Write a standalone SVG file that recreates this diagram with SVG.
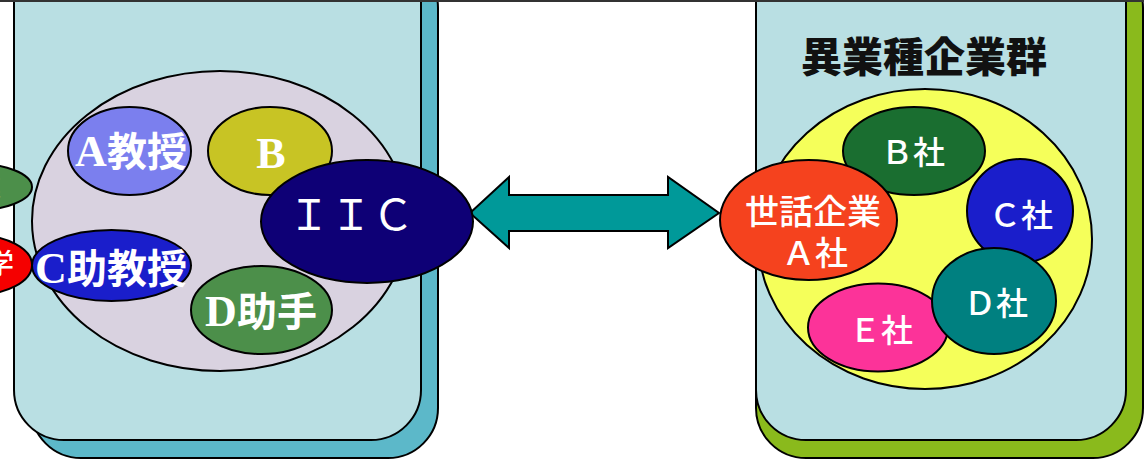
<svg xmlns="http://www.w3.org/2000/svg" width="1144" height="459" viewBox="0 0 1144 459">
  <style>
    .ol { stroke: #000; stroke-width: 2; }
    .lbl-j { fill: #fff; font-family: "Liberation Serif", "Noto Sans CJK JP", serif; font-weight: bold; text-anchor: middle; }
    .lbl-j .lat { font-size: 44px; }
    .lbl-s { fill: #fff; font-family: "Noto Sans CJK JP", "Noto Sans", sans-serif; font-weight: 500; text-anchor: middle; }
    .end { text-anchor: end; }
    .panel { fill: #b9dfe3; }
  </style>

  <rect x="0" y="0" width="1144" height="459" fill="#fff"/>

  <!-- university panel -->
  <g id="panel-univ">
    <rect x="31" y="-42" width="407" height="500" rx="50" fill="#5cb8c9" class="ol"/>
    <rect x="14" y="-60" width="407" height="500" rx="50" class="panel ol"/>
  </g>

  <!-- company panel -->
  <g id="panel-corp">
    <rect x="756" y="-42" width="387" height="500" rx="50" fill="#8aba1c" class="ol"/>
    <rect x="756" y="-60" width="370" height="500" rx="50" class="panel ol"/>
    <text x="924" y="72" font-family="'Noto Sans CJK JP', sans-serif" font-weight="900" font-size="41" text-anchor="middle" fill="#111">異業種企業群</text>
  </g>

  <!-- top rule -->
  <line x1="0" y1="1" x2="1144" y2="1" stroke="#333" stroke-width="2"/>

  <!-- partial nodes at the left edge -->
  <g id="node-left-green">
    <ellipse cx="-30" cy="187" rx="62" ry="24" fill="#4c8f4a" class="ol"/>
    <text x="1" y="197" class="lbl-s end" font-size="28">企業</text>
  </g>
  <g id="node-left-red">
    <ellipse cx="-25" cy="265" rx="57" ry="30" fill="#f50000" class="ol"/>
    <text x="14" y="274" class="lbl-s end" font-size="28">大学</text>
  </g>

  <!-- university circle -->
  <g id="group-univ">
    <ellipse cx="220" cy="221" rx="188" ry="150" fill="#d9d2e0" class="ol"/>
  </g>

  <!-- connectors -->
  <g id="connectors">
    <polygon points="470,213 509,177 509,195 668,195 668,177 719,213 668,248 668,231 509,231 509,248" fill="#009999" class="ol"/>
  </g>

  <g id="node-a">
    <ellipse cx="129.5" cy="151" rx="61.5" ry="44" fill="#7b7fee" class="ol"/>
    <text x="131" y="166" class="lbl-j" font-size="40"><tspan class="lat">A</tspan>教授</text>
  </g>
  <g id="node-b">
    <ellipse cx="270" cy="151" rx="62" ry="44" fill="#c8c424" class="ol"/>
    <text x="271" y="168" class="lbl-j" font-size="44">B</text>
  </g>
  <g id="node-c">
    <ellipse cx="111.5" cy="265.5" rx="79.5" ry="35.5" fill="#1a1ecb" class="ol"/>
    <text x="111" y="283" class="lbl-j" font-size="40"><tspan class="lat">C</tspan>助教授</text>
  </g>
  <g id="node-d">
    <ellipse cx="261.5" cy="310" rx="70.5" ry="44" fill="#4c8f4a" class="ol"/>
    <text x="261" y="326" class="lbl-j" font-size="40"><tspan class="lat">D</tspan>助手</text>
  </g>
  <g id="node-iic">
    <ellipse cx="367" cy="221.5" rx="106" ry="61.5" fill="#0e0076" class="ol"/>
    <text x="351" y="230" class="lbl-s" font-size="42" style="font-weight:normal">ＩＩＣ</text>
  </g>

  <!-- company group -->
  <g id="group-corp">
    <ellipse cx="925" cy="239" rx="167" ry="150" fill="#f5ff5a" class="ol"/>
  </g>
  <g id="node-corp-b">
    <ellipse cx="914" cy="151" rx="71" ry="44" fill="#1a6e30" class="ol"/>
    <text x="913" y="164" class="lbl-s" font-size="32">Ｂ社</text>
  </g>
  <g id="node-corp-c">
    <ellipse cx="1020" cy="211" rx="53" ry="52" fill="#1a1ecb" class="ol"/>
    <text x="1021" y="227" class="lbl-s" font-size="32">Ｃ社</text>
  </g>
  <g id="node-corp-e">
    <ellipse cx="878" cy="327.5" rx="70" ry="44" fill="#fc3399" class="ol"/>
    <text x="881" y="342" class="lbl-s" font-size="32">Ｅ社</text>
  </g>
  <g id="node-corp-d">
    <ellipse cx="994" cy="301" rx="62" ry="53" fill="#008080" class="ol"/>
    <text x="996" y="315" class="lbl-s" font-size="32">Ｄ社</text>
  </g>
  <g id="node-corp-a">
    <ellipse cx="808.5" cy="220" rx="88.5" ry="60" fill="#f5421e" class="ol"/>
    <text x="813" y="224" class="lbl-s" font-size="34">世話企業</text>
    <text x="815" y="265" class="lbl-s" font-size="33">Ａ社</text>
  </g>
</svg>
